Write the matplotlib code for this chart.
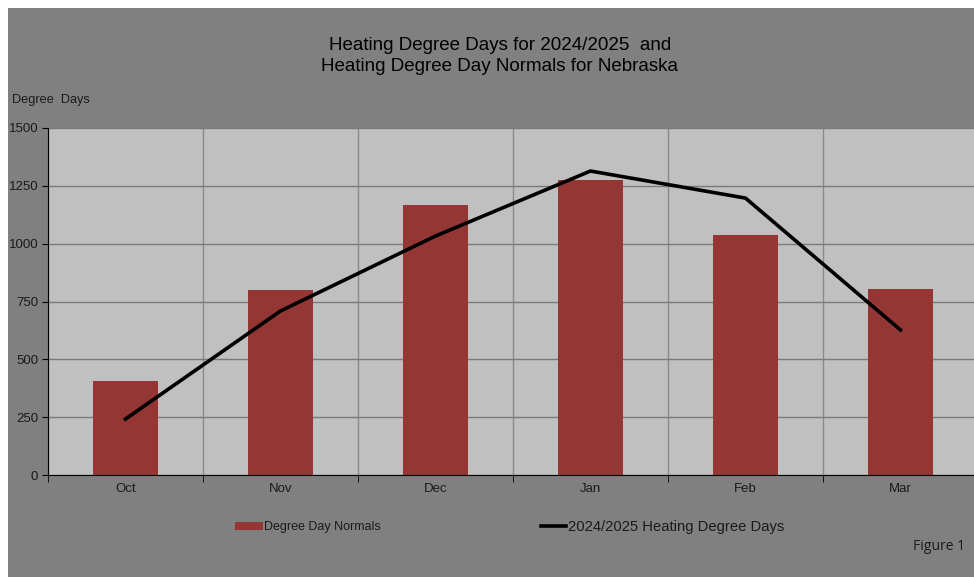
import numpy as np
import matplotlib
matplotlib.use('Agg')
import matplotlib.pyplot as plt
from matplotlib.patches import Rectangle, Patch
from matplotlib.lines import Line2D

plt.rcParams['font.family'] = ['Liberation Sans', 'DejaVu Sans']

# data
months = ['Oct', 'Nov', 'Dec', 'Jan', 'Feb', 'Mar']
normals = [407, 800, 1165, 1274, 1036, 802]      # Degree Day Normals
hdd_2425 = [242, 709, 1033, 1314, 1197, 627]     # 2024/2025 Heating Degree Days
yticks = [0, 250, 500, 750, 1000, 1250, 1500]

bar_col = '#943634'
bg_col = '#808080'
plot_col = '#c0c0c0'
txt_col = '#1a1a1a'

fig = plt.figure(figsize=(9.74, 5.77), dpi=100, facecolor='white')
# grey chart area with thin white margin top/left
fig.patches.append(Rectangle((8/974, 0), 1, 1 - 8/577, transform=fig.transFigure,
                             facecolor=bg_col, edgecolor='none', zorder=-10))

ax = fig.add_axes([48/974, 102/577, 930/974, 347/577])
ax.set_facecolor(plot_col)

x = np.arange(len(months))
ax.bar(x, normals, width=0.42, color=bar_col, zorder=2)
ax.plot(x, hdd_2425, color='black', lw=2.6, zorder=3)

ax.set_xlim(-0.5, len(months) - 0.5)
ax.set_ylim(0, 1500)
ax.set_yticks(yticks)
ax.set_yticklabels([str(v) for v in yticks], fontsize=9.5, color=txt_col)
ax.set_xticks(x)
ax.set_xticklabels(months, fontsize=9.5, color=txt_col)
ax.set_xticks(np.arange(-0.5, len(months), 1.0), minor=True)
ax.tick_params(axis='x', which='major', length=0, pad=6)
ax.tick_params(axis='x', which='minor', length=5, direction='out', color='black')
ax.tick_params(axis='y', length=4, direction='out', color='black', pad=3)

ax.grid(axis='y', color='#7a7a7a', lw=1, zorder=1)
ax.grid(axis='x', which='minor', color='#8a8a8a', lw=1, zorder=1)
for s in ['top', 'right']:
    ax.spines[s].set_visible(False)
ax.spines['left'].set_color('black')
ax.spines['bottom'].set_color('black')

fig.text(500/974, 1 - 56/577, 'Heating Degree Days for 2024/2025  and\nHeating Degree Day Normals for Nebraska',
         ha='center', va='center', fontsize=13.5, color='black', linespacing=1.3)
fig.text(12/974, 1 - 100/577, 'Degree  Days', ha='left', va='center', fontsize=9.2, color=txt_col)

# legend entries placed separately, as in the reference
leg1 = fig.legend([Patch(facecolor=bar_col, edgecolor='none')], ['Degree Day Normals'],
                  loc='center left', bbox_to_anchor=(235/974, 1 - 527/577), frameon=False,
                  fontsize=9, handlelength=2.2, handleheight=0.6, handletextpad=0.1,
                  borderpad=0, borderaxespad=0, labelcolor=txt_col)
leg2 = fig.legend([Line2D([0], [0], color='black', lw=2.6)], ['2024/2025 Heating Degree Days'],
                  loc='center left', bbox_to_anchor=(541/974, 1 - 527/577), frameon=False,
                  fontsize=10.6, handlelength=1.7, handletextpad=0.1,
                  borderpad=0, borderaxespad=0, labelcolor=txt_col)

fig.text(965/974, 1 - 547/577, 'Figure 1', ha='right', va='center', fontsize=10,
         family=['Open Sans', 'DejaVu Sans'], color=txt_col)

fig.savefig('out.png', dpi=100, facecolor=fig.get_facecolor())
